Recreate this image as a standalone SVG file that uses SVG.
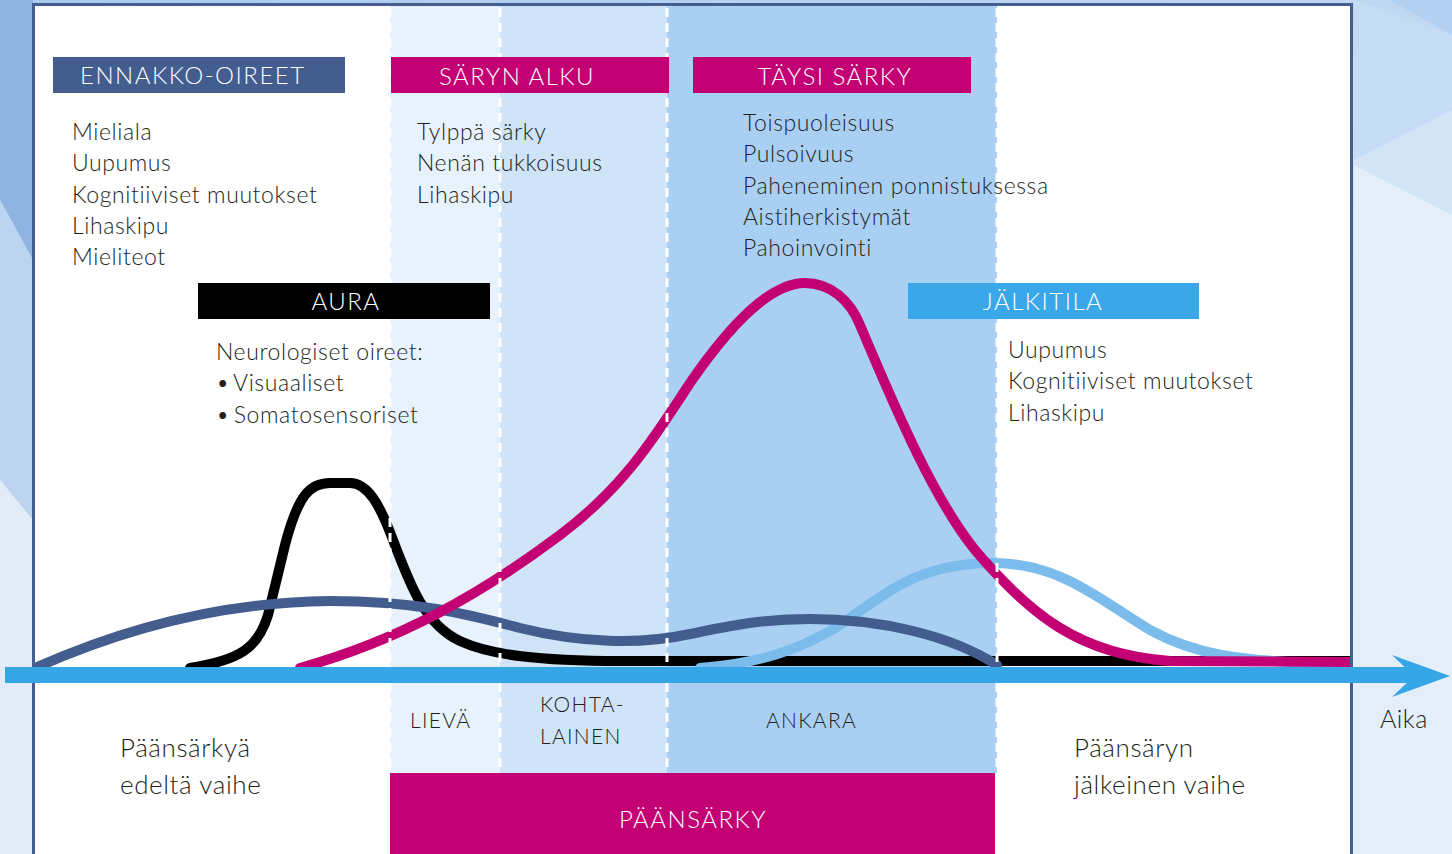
<svg xmlns="http://www.w3.org/2000/svg" width="1452" height="854" viewBox="0 0 1452 854">
<defs>
<linearGradient id="bg" x1="0" y1="0" x2="0.3" y2="1">
<stop offset="0" stop-color="#a9c9ee"/>
<stop offset="0.5" stop-color="#d3e3f6"/>
<stop offset="1" stop-color="#eef4fb"/>
</linearGradient>
<clipPath id="inner"><rect x="35" y="6" width="1315" height="848"/></clipPath>
<style>
.t{font-family:Lato,"Open Sans","Liberation Sans",sans-serif;font-size:23px;letter-spacing:0.6px;fill:#231f20;font-weight:300}
.h{font-family:Lato,"Open Sans","Liberation Sans",sans-serif;font-size:24px;letter-spacing:1.5px;fill:#ffffff;font-weight:300}
.s{font-family:Lato,"Open Sans","Liberation Sans",sans-serif;font-size:21px;letter-spacing:1.3px;fill:#231f20;font-weight:300}
.a{font-family:Lato,"Open Sans","Liberation Sans",sans-serif;font-size:25px;letter-spacing:0.5px;fill:#231f20;font-weight:300}
.b{font-family:Lato,"Open Sans","Liberation Sans",sans-serif;font-size:26px;letter-spacing:0.6px;fill:#231f20;font-weight:300}
.c{fill:none;stroke-width:10;stroke-linecap:round;stroke-linejoin:round}
.d{stroke:#ffffff;stroke-width:3;stroke-dasharray:9 6;fill:none}
</style>
</defs>
<!-- background -->
<rect x="0" y="0" width="1452" height="854" fill="url(#bg)"/>
<polygon points="0,0 33,0 33,260 0,200" fill="#8fb4e2"/>
<polygon points="0,200 33,260 33,520 0,480" fill="#bdd4f0"/>
<polygon points="0,480 33,520 33,854 0,854" fill="#e2ecf8"/>
<polygon points="1354,0 1452,0 1452,35 1390,0" fill="#b3d0f0"/>
<polygon points="1354,0 1452,35 1452,110 1354,160" fill="#c6dcf4"/>
<polygon points="1354,160 1452,110 1452,215 1354,165" fill="#d3e4f6"/>
<polygon points="1354,165 1452,215 1452,854 1354,854" fill="#e4eef9"/>
<!-- frame -->
<rect id="frame" x="33.5" y="4.5" width="1318" height="880" fill="#ffffff" stroke="#435e8f" stroke-width="3"/>
<!-- intensity bands -->
<g id="bands">
<rect x="390" y="6" width="110" height="767" fill="#e8f2fc"/>
<rect x="500" y="6" width="167" height="767" fill="#d0e4f8"/>
<rect x="667" y="6" width="330" height="767" fill="#a9d0f3"/>
</g>
<!-- curves -->
<g id="connectors" clip-path="url(#inner)">
<path class="c" stroke="#000000" d="M190,668 C240,660 258,648 268,615 L285,545 C298,495 310,483 330,483 L350,483 C368,483 380,505 393,540 C410,585 425,625 460,641 C490,655 540,661 620,661 L1360,661"/>
<path class="c" stroke="#7bbcec" d="M700,668 C760,663 800,650 840,625 C890,590 920,564 990,563 C1060,562 1100,600 1150,630 C1190,652 1230,663 1360,664"/>
<path class="c" stroke="#425d8e" d="M35,668 C120,630 220,602 330,601 C420,601 470,615 520,628 C580,643 640,645 690,634 C730,626 760,619 810,619 C880,619 950,635 997,665"/>
<path class="c" stroke="#c20074" d="M300,668 C400,640 480,595 560,535 C620,490 650,445 690,383 C730,325 770,283 805,283 C830,283 850,300 860,325 C900,420 935,500 975,550 C1030,615 1080,655 1170,661 L1360,662"/>
</g>
<!-- dashed separators -->
<g id="dividers">
<line class="d" x1="390" y1="8" x2="390" y2="772"/>
<line class="d" x1="500" y1="8" x2="500" y2="772"/>
<line class="d" x1="667" y1="8" x2="667" y2="772"/>
<line class="d" x1="997" y1="8" x2="997" y2="772"/>
</g>
<!-- time axis -->
<g id="axis">
<rect x="5" y="667" width="1412" height="16" fill="#36a6e6"/>
<polygon points="1392,655 1450,676 1392,697 1414,676" fill="#36a6e6"/>
<text class="a" x="1380" y="728">Aika</text>
</g>
<!-- nodes -->
<g id="ennakko">
<rect x="53" y="57" width="292" height="36" fill="#425d8e"/>
<text class="h" x="80" y="84">ENNAKKO-OIREET</text>
<text class="t" x="72" y="140">Mieliala</text>
<text class="t" x="72" y="171">Uupumus</text>
<text class="t" x="72" y="203">Kognitiiviset muutokset</text>
<text class="t" x="72" y="234">Lihaskipu</text>
<text class="t" x="72" y="265">Mieliteot</text>
</g>
<g id="saryn-alku">
<rect x="391" y="57" width="278" height="36" fill="#c20074"/>
<text class="h" x="517" y="85" text-anchor="middle">SÄRYN ALKU</text>
<text class="t" x="417" y="140">Tylppä särky</text>
<text class="t" x="417" y="171">Nenän tukkoisuus</text>
<text class="t" x="417" y="203">Lihaskipu</text>
</g>
<g id="taysi-sarky">
<rect x="693" y="57" width="278" height="36" fill="#c20074"/>
<text class="h" x="835" y="85" text-anchor="middle">TÄYSI SÄRKY</text>
<text class="t" x="743" y="131">Toispuoleisuus</text>
<text class="t" x="743" y="162">Pulsoivuus</text>
<text class="t" x="743" y="194">Paheneminen ponnistuksessa</text>
<text class="t" x="743" y="225">Aistiherkistymät</text>
<text class="t" x="743" y="256">Pahoinvointi</text>
</g>
<g id="aura">
<rect x="198" y="283" width="292" height="36" fill="#000000"/>
<text class="h" x="346" y="310" text-anchor="middle">AURA</text>
<text class="t" x="216" y="360">Neurologiset oireet:</text>
<text class="t" x="216" y="391" word-spacing="-3">• Visuaaliset</text>
<text class="t" x="216" y="423" word-spacing="-3">• Somatosensoriset</text>
</g>
<g id="jalkitila">
<rect x="908" y="283" width="291" height="36" fill="#3aa8e8"/>
<text class="h" x="1043" y="310" text-anchor="middle">JÄLKITILA</text>
<text class="t" x="1008" y="358">Uupumus</text>
<text class="t" x="1008" y="389">Kognitiiviset muutokset</text>
<text class="t" x="1008" y="421">Lihaskipu</text>
</g>
<g id="intensity-labels">
<text class="s" x="410" y="728">LIEVÄ</text>
<text class="s" x="540" y="712">KOHTA-</text>
<text class="s" x="540" y="744">LAINEN</text>
<text class="s" x="766" y="728">ANKARA</text>
</g>
<g id="esivaihe">
<text class="b" x="120" y="757">Päänsärkyä</text>
<text class="b" x="120" y="794">edeltä vaihe</text>
</g>
<g id="jalkivaihe">
<text class="b" x="1074" y="757">Päänsäryn</text>
<text class="b" x="1074" y="794">jälkeinen vaihe</text>
</g>
<g id="paansarky">
<rect x="390" y="773" width="605" height="81" fill="#c20074"/>
<text class="h" x="693" y="828" text-anchor="middle">PÄÄNSÄRKY</text>
</g>
</svg>
